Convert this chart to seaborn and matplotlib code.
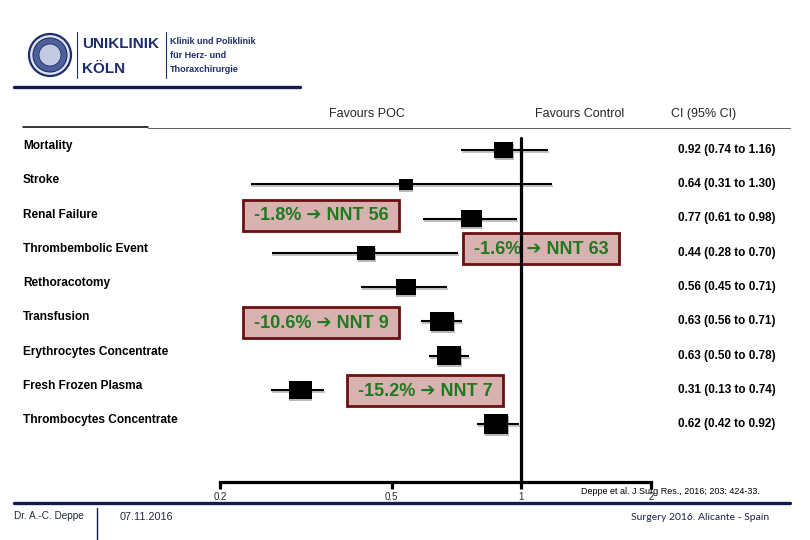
import numpy as np
import pandas as pd
import matplotlib
matplotlib.use("Agg")
import matplotlib.pyplot as plt
import seaborn as sns
from matplotlib.patches import Rectangle, Circle
from matplotlib.path import Path
from matplotlib.ticker import NullLocator
from matplotlib import transforms

# ---------------- data ----------------
outcomes = ["Mortality", "Stroke", "Renal Failure", "Thrombembolic Event",
            "Rethoracotomy", "Transfusion", "Erythrocytes Concentrate",
            "Fresh Frozen Plasma", "Thrombocytes Concentrate"]
odds_ratio = [0.91, 0.54, 0.765, 0.437, 0.54, 0.656, 0.68, 0.307, 0.875]
ci_low = [0.726, 0.236, 0.592, 0.264, 0.425, 0.586, 0.611, 0.263, 0.79]
ci_high = [1.155, 1.18, 0.98, 0.714, 0.673, 0.729, 0.757, 0.349, 0.989]
marker_px = [19, 14, 21, 18, 20, 24, 24, 23, 24]
ci_text = ["0.92 (0.74 to 1.16)", "0.64 (0.31 to 1.30)", "0.77 (0.61 to 0.98)",
           "0.44 (0.28 to 0.70)", "0.56 (0.45 to 0.71)", "0.63 (0.56 to 0.71)",
           "0.63 (0.50 to 0.78)", "0.31 (0.13 to 0.74)", "0.62 (0.42 to 0.92)"]
xticks = [0.2, 0.5, 1, 2]
xtick_labels = ["0.2", "0.5", "1", "2"]
nnt_text = ["-1.8% \u2794 NNT 56", "-1.6% \u2794 NNT 63",
            "-10.6% \u2794 NNT 9", "-15.2% \u2794 NNT 7"]

# ---------------- style ----------------
sns.set_theme(style="white")
plt.rcParams["font.family"] = ["Liberation Sans", "DejaVu Sans"]

W, H = 810, 540
fig = plt.figure(figsize=(8.1, 5.4), dpi=100)
fig.patch.set_facecolor("white")

bg = fig.add_axes([0, 0, 1, 1], zorder=0)
bg.set_xlim(0, W)
bg.set_ylim(H, 0)
bg.axis("off")

AX_L, AX_R, AX_T, AX_B = 220, 651, 130, 482
ax = fig.add_axes([AX_L / W, 1 - AX_B / H, (AX_R - AX_L) / W, (AX_B - AX_T) / H], zorder=1)
ax.patch.set_alpha(0)

ROW0, ROWSTEP = 150, 34.25
df = pd.DataFrame({"outcome": outcomes, "or": odds_ratio, "lo": ci_low, "hi": ci_high,
                   "row": np.arange(len(outcomes)),
                   "s": [(w * 0.72) ** 2 for w in marker_px]})

ax.set_xscale("log")
ax.set_xlim(0.2, 2)
ax.set_ylim((AX_B - ROW0) / ROWSTEP, (AX_T - ROW0) / ROWSTEP)

rect = Path([(-1.25, -1), (1.25, -1), (1.25, 1), (-1.25, 1), (-1.25, -1)],
            [Path.MOVETO, Path.LINETO, Path.LINETO, Path.LINETO, Path.CLOSEPOLY])

shadow = transforms.offset_copy(ax.transData, fig=fig, x=0.5, y=-2, units="dots")
ax.hlines(df["row"], df["lo"], df["hi"], colors="#c4c4c4", lw=1.5, transform=shadow, zorder=1)
ax.scatter(df["or"], df["row"], s=df["s"], marker=rect, color="#b8b8b8", linewidths=0,
           transform=shadow, zorder=1)
ax.hlines(df["row"], df["lo"], df["hi"], colors="black", lw=1.5, zorder=2)
sns.scatterplot(data=df, x="or", y="row", s=df["s"], marker=rect, color="black",
                linewidth=0, ax=ax, legend=False, zorder=3)

# line of no effect
ax.axvline(1, ymin=0, ymax=(AX_B - 138) / (AX_B - AX_T), color="black", lw=2.3, zorder=2)

for sp in ["top", "right", "left"]:
    ax.spines[sp].set_visible(False)
ax.spines["bottom"].set_color("black")
ax.spines["bottom"].set_linewidth(2.3)
ax.set_xticks(xticks)
ax.set_xticklabels(xtick_labels)
ax.xaxis.set_minor_locator(NullLocator())
ax.tick_params(axis="x", direction="out", length=5, width=2.3, color="black",
               labelsize=7, pad=2.5, bottom=True)
ax.set_yticks([])
ax.set_xlabel("")
ax.set_ylabel("")

# row texts
lab_tr = transforms.blended_transform_factory(bg.transData, ax.transData)
lab_up = transforms.offset_copy(lab_tr, fig=fig, y=4, units="dots")
for i, (name, ci) in enumerate(zip(outcomes, ci_text)):
    bg.text(23, i, name, transform=lab_up, ha="left", va="center",
            fontsize=8.6, fontweight="bold", color="black")
    bg.text(678, i, ci, transform=lab_tr, ha="left", va="center",
            fontsize=8.5, fontweight="bold", color="black")

# header
bg.text(367, 114, "Favours POC", ha="center", va="center", fontsize=9)
bg.text(580, 114, "Favours Control", ha="center", va="center", fontsize=9)
bg.text(704, 114, "CI (95% CI)", ha="center", va="center", fontsize=9)
bg.plot([23, 148], [127, 127], color="black", lw=1.1)
bg.plot([148, 790], [128, 128], color="#606060", lw=0.7)

# NNT boxes
box_centers = [(321, 215), (541, 248.5), (321, 322), (425, 390)]
for (cx, cy), t in zip(box_centers, nnt_text):
    bg.add_patch(Rectangle((cx - 78, cy - 15.5), 156, 31, facecolor="#d8b1b1",
                           edgecolor="#6b1010", lw=2.0, zorder=1))
    bg.text(cx, cy + 1, t, ha="center", va="center", fontsize=13, fontweight="bold",
            color="#1f7a1f", zorder=2, family=["Liberation Sans", "DejaVu Sans"])

# logo
navy = "#1e2d6e"
bg.add_patch(Circle((50, 55), 21, facecolor="#dfe3ef", edgecolor=navy, lw=1.6))
bg.add_patch(Circle((50, 55), 17, facecolor="#4f5f98", edgecolor=navy, lw=0.8))
bg.add_patch(Circle((50, 55), 11, facecolor="#c3cae2", edgecolor=navy, lw=0.6))
bg.plot([77, 77], [32, 78], color=navy, lw=0.8)
bg.plot([166, 166], [32, 78], color=navy, lw=0.8)
bg.text(82, 44, "UNIKLINIK", ha="left", va="center", fontsize=11, fontweight="bold",
        color=navy)
bg.text(82, 69, "KÖLN", ha="left", va="center", fontsize=11, fontweight="bold",
        color=navy)
for yy, t in zip([42, 56, 70], ["Klinik und Poliklinik", "für Herz- und", "Thoraxchirurgie"]):
    bg.text(170, yy, t, ha="left", va="center", fontsize=6.5, fontweight="bold",
            color=navy)
bg.plot([14, 300], [87, 87], color="#141b4d", lw=2.4)

# footer
bg.text(581, 492, "Deppe et al. J Surg Res., 2016; 203: 424-33.", ha="left", va="center",
        fontsize=6.5, color="black", zorder=3)
bg.plot([14, 790], [503, 503], color="#141b4d", lw=2.4)
bg.plot([97, 97], [508, 540], color="#141b4d", lw=1.0)
bg.text(14, 516, "Dr. A.-C. Deppe", ha="left", va="center", fontsize=7.2, color="#222a44")
bg.text(120, 517, "07.11.2016", ha="left", va="center", fontsize=7.8, color="#222a44")
bg.text(769, 518, "Surgery 2016. Alicante - Spain", ha="right", va="center",
        fontsize=7.5, color="#1b2350", family=["Lato", "DejaVu Sans"])

fig.savefig("out.png", dpi=100)
